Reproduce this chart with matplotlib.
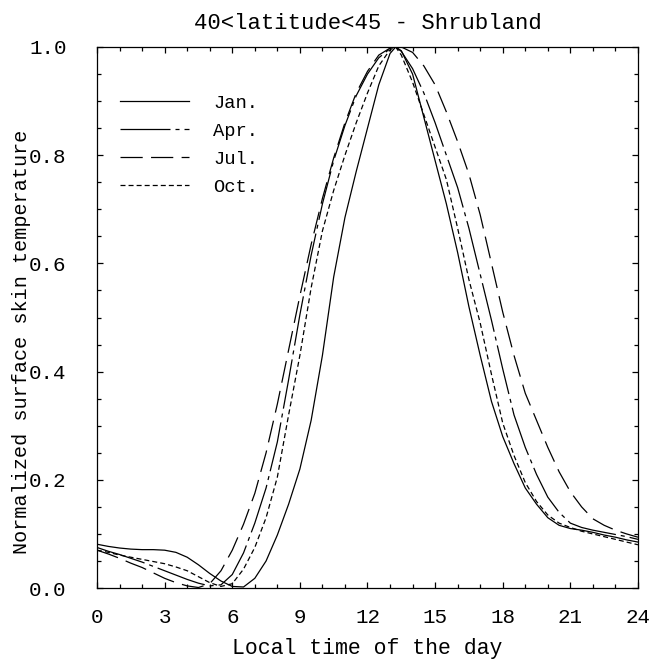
import matplotlib
matplotlib.use("Agg")
import matplotlib.pyplot as plt
from matplotlib.ticker import MultipleLocator, FormatStrFormatter

FONT = "Liberation Mono"
IMAGE_FILE = "out.png"

# local hour of the day (extra point at the common peak)
hours = [0, 0.5, 1, 1.5, 2, 2.5, 3, 3.5, 4, 4.5, 5, 5.5, 6, 6.5, 7, 7.5,
         8, 8.5, 9, 9.5, 10, 10.5, 11, 11.5, 12, 12.5, 13, 13.25, 13.5,
         14, 14.5, 15, 15.5, 16, 16.5, 17, 17.5, 18, 18.5, 19, 19.5, 20,
         20.5, 21, 21.5, 22, 22.5, 23, 23.5, 24]

jan = [0.081, 0.077, 0.074, 0.072, 0.071, 0.071, 0.070, 0.066, 0.057, 0.043,
       0.027, 0.013, 0.003, 0.002, 0.018, 0.050, 0.098, 0.155, 0.220, 0.310,
       0.430, 0.575, 0.685, 0.770, 0.850, 0.930, 0.988, 1.000, 0.993, 0.950,
       0.870, 0.790, 0.710, 0.620, 0.520, 0.430, 0.345, 0.280, 0.230, 0.185,
       0.155, 0.130, 0.116, 0.110, 0.107, 0.103, 0.098, 0.094, 0.089, 0.085]

apr = [0.075, 0.068, 0.062, 0.055, 0.048, 0.040, 0.032, 0.024, 0.016, 0.009,
       0.004, 0.006, 0.025, 0.065, 0.120, 0.185, 0.270, 0.385, 0.505, 0.615,
       0.710, 0.790, 0.855, 0.910, 0.950, 0.980, 0.997, 1.000, 0.992, 0.960,
       0.915, 0.860, 0.800, 0.740, 0.665, 0.580, 0.495, 0.405, 0.320, 0.260,
       0.210, 0.168, 0.140, 0.120, 0.112, 0.107, 0.103, 0.099, 0.095, 0.090]

jul = [0.070, 0.063, 0.055, 0.046, 0.038, 0.028, 0.018, 0.010, 0.004, 0.001,
       0.008, 0.032, 0.070, 0.118, 0.175, 0.250, 0.340, 0.440, 0.540, 0.635,
       0.720, 0.795, 0.860, 0.915, 0.955, 0.985, 0.998, 1.000, 1.000, 0.990,
       0.965, 0.930, 0.880, 0.825, 0.765, 0.690, 0.600, 0.510, 0.430, 0.360,
       0.310, 0.260, 0.215, 0.178, 0.150, 0.128, 0.116, 0.107, 0.100, 0.094]

oct_ = [0.070, 0.066, 0.061, 0.057, 0.053, 0.049, 0.045, 0.039, 0.032, 0.021,
        0.010, 0.003, 0.008, 0.035, 0.075, 0.130, 0.205, 0.320, 0.430, 0.555,
        0.660, 0.735, 0.800, 0.860, 0.915, 0.965, 0.995, 1.000, 0.985, 0.935,
        0.875, 0.815, 0.755, 0.665, 0.570, 0.490, 0.395, 0.305, 0.245, 0.195,
        0.160, 0.135, 0.120, 0.112, 0.105, 0.100, 0.095, 0.090, 0.085, 0.080]

labels = ["Jan.", "Apr.", "Jul.", "Oct."]
DASHES = {
    "Jan.": None,
    "Apr.": (0, (36, 3.6, 2.9, 3.6)),
    "Jul.": (0, (16, 6)),
    "Oct.": (0, (3.6, 2.2)),
}

plt.rcParams["font.family"] = [FONT, "DejaVu Sans"]
plt.rcParams["lines.scale_dashes"] = False

fig = plt.figure(figsize=(6.49, 6.60), dpi=100)
ax = fig.add_axes([0.1495, 0.109, 0.8335, 0.8198])

for name, ys in zip(labels, [jan, apr, jul, oct_]):
    ls = DASHES[name] if DASHES[name] is not None else "-"
    ax.plot(hours, ys, color="black", lw=0.9, linestyle=ls, label=name)

ax.set_xlim(0, 24)
ax.set_ylim(0, 1)
ax.xaxis.set_major_locator(MultipleLocator(3))
ax.xaxis.set_minor_locator(MultipleLocator(1))
ax.yaxis.set_major_locator(MultipleLocator(0.2))
ax.yaxis.set_minor_locator(MultipleLocator(0.05))
ax.yaxis.set_major_formatter(FormatStrFormatter("%.1f"))
ax.tick_params(which="both", direction="in", top=True, right=True, width=0.9)
ax.tick_params(which="major", length=4.5)
ax.tick_params(which="minor", length=3)
ax.tick_params(axis="x", which="major", pad=14, labelsize=15)
ax.tick_params(axis="y", which="major", pad=22, labelsize=15)
for s in ax.spines.values():
    s.set_linewidth(0.9)

ax.set_title("40<latitude<45 - Shrubland", fontsize=16, pad=13)
ax.set_xlabel("Local time of the day", fontsize=15.5)
ax.xaxis.set_label_coords(0.5, -0.092)
ax.set_ylabel("Normalized surface skin temperature", fontsize=14.5)
ax.yaxis.set_label_coords(-0.122, 0.455)

ax.legend(loc="upper left", bbox_to_anchor=(0.042, 0.912), frameon=False,
          fontsize=13.5, handlelength=3.7, handletextpad=1.3,
          labelspacing=0.58, borderpad=0, borderaxespad=0)

plt.savefig(IMAGE_FILE, dpi=100)
